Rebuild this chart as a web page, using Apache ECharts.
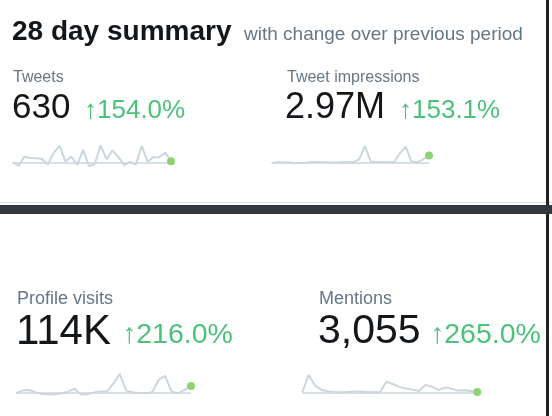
<!DOCTYPE html>
<html><head><meta charset="utf-8">
<script src="https://cdn.jsdelivr.net/npm/echarts@6/dist/echarts.min.js"></script>
<style>html,body{margin:0;padding:0;background:#fff}#c{width:552px;height:416px}</style>
</head><body><div id="c"></div>
<script>
const tweets=[13,2,30,26,25,23,6,42,62,15,30,5,50,2,8,64,22,48,30,4,14,6,62,15,28,28,42,16];
const impressions=[11,13,13,12,11,11,12,14,14,13,12,12,13,14,13,22,62,15,14,14,13,13,40,60,15,13,22,33];
const profileVisits=[11,18,20,13,8,7,7,10,14,24,7,7,12,15,15,38,68,18,13,11,10,13,50,62,15,10,20,32];
const mentions=[13,65,32,20,16,14,13,14,15,15,14,13,14,45,37,29,24,21,17,35,30,20,27,24,18,19,17,14];
const days=tweets.map((_,i)=>i+1);
const FONT='"Liberation Sans", Arial, sans-serif';
const panels=[
 {data:tweets,left:12.7,width:158.3,top:143.3},
 {data:impressions,left:271.7,width:157.3,top:143.3},
 {data:profileVisits,left:16,width:175,top:373.3},
 {data:mentions,left:302.3,width:175,top:373.3}
];
const grid=[],xAxis=[],yAxis=[],series=[];
panels.forEach((p,i)=>{
 grid.push({left:p.left,width:p.width,top:p.top,height:23.3});
 xAxis.push({type:'category',gridIndex:i,data:days,boundaryGap:false,show:false});
 yAxis.push({type:'value',gridIndex:i,min:0,max:70,show:false});
 series.push({type:'line',xAxisIndex:i,yAxisIndex:i,data:p.data,silent:true,
  lineStyle:{color:'#ccd6dd',width:2},symbol:'none',
  markLine:{silent:true,symbol:'none',label:{show:false},lineStyle:{color:'#ccd6dd',width:1.5,type:'solid'},data:[{yAxis:11}]},
  markPoint:{symbol:'circle',symbolSize:8,itemStyle:{color:'#8fd175'},label:{show:false},
   data:[{coord:[p.data.length-1,p.data[p.data.length-1]]}]}});
});
const t=(x,y,text,size,color,weight)=>({type:'text',style:{x,y,text,font:(weight||'normal')+' '+size+'px '+FONT,fill:color,textVerticalAlign:'middle'}});
const graphic=[
 {type:'rect',shape:{x:0,y:202,width:552,height:1},style:{fill:'#d8dde0'}},
 {type:'rect',shape:{x:0,y:205,width:552,height:9},style:{fill:'#33383d'}},
 {type:'rect',shape:{x:546,y:0,width:3,height:205},style:{fill:'#222'}},
 {type:'rect',shape:{x:546,y:214,width:3,height:202},style:{fill:'#222'}},
 t(12,32,'28 day summary',28,'#14171a','bold'),
 t(244,35,'with change over previous period',19,'#657786'),
 t(13,78,'Tweets',16,'#657786'),
 t(12,108,'630',35,'#14171a'),
 t(84,111,'↑154.0%',26,'#4cc17a'),
 t(287,78,'Tweet impressions',16,'#657786'),
 t(285,108,'2.97M',36,'#14171a'),
 t(399,111,'↑153.1%',26,'#4cc17a'),
 t(17,299,'Profile visits',18,'#657786'),
 t(16,332,'114K',42,'#14171a'),
 t(122,335,'↑216.0%',28.5,'#4cc17a'),
 t(319,299,'Mentions',18,'#657786'),
 t(318,332,'3,055',41,'#14171a'),
 t(430,335,'↑265.0%',28.5,'#4cc17a')
];
const chart=echarts.init(document.getElementById('c'));
chart.setOption({animation:false,grid,xAxis,yAxis,series,graphic});
</script></body></html>
